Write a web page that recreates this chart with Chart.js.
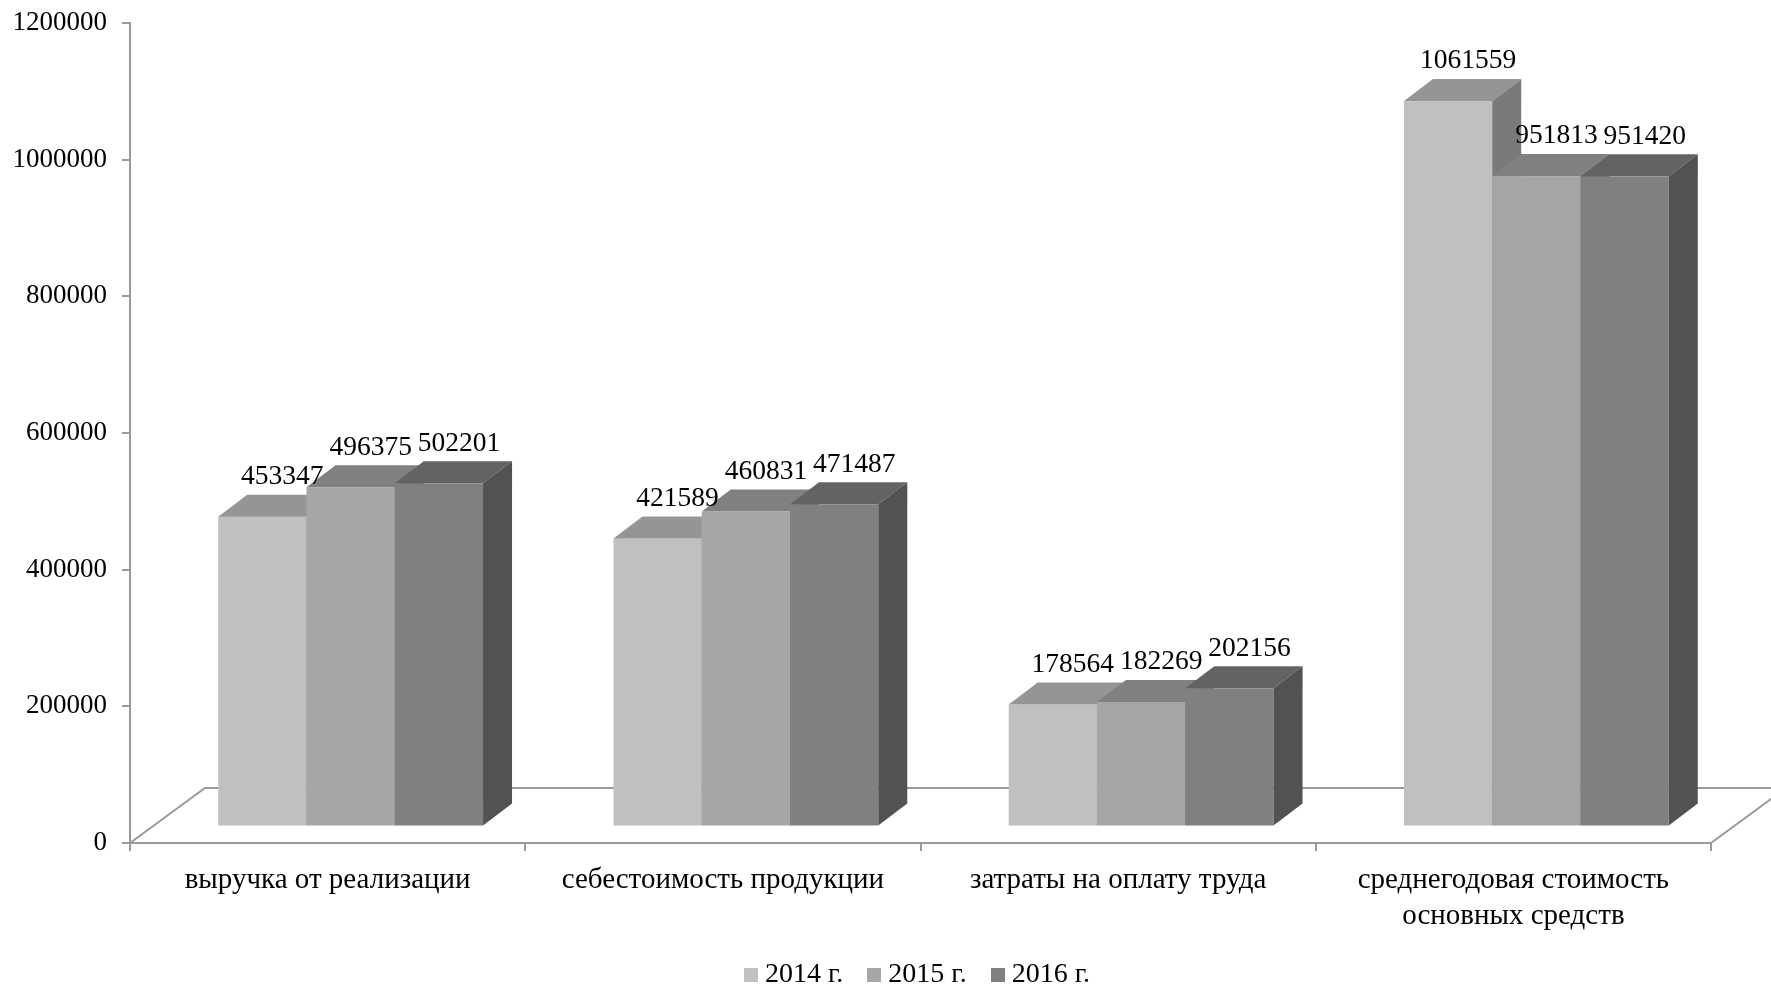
<!DOCTYPE html>
<html>
<head>
<meta charset="utf-8">
<script src="https://cdn.jsdelivr.net/npm/chart.js@4.4.0/dist/chart.umd.min.js"></script>
<style>
  html, body { margin: 0; padding: 0; background: #fff; }
  #wrap { width: 1771px; height: 988px; }
</style>
</head>
<body>
<div id="wrap"><canvas id="myChart" width="1771" height="988"></canvas></div>
<script>
// data
const categories = [
  'выручка от реализации',
  'себестоимость продукции',
  'затраты на оплату труда',
  ['среднегодовая стоимость', 'основных средств']
];
const years = ['2014 г.', '2015 г.', '2016 г.'];
const values2014 = [453347, 421589, 178564, 1061559];
const values2015 = [496375, 460831, 182269, 951813];
const values2016 = [502201, 471487, 202156, 951420];
const yTicks = [0, 200000, 400000, 600000, 800000, 1000000, 1200000];

// face colours per year: front, top, side
const frontColors = ['#c0c0c0', '#a6a6a6', '#808080'];
const topColors = ['#959595', '#808080', '#636363'];
const sideColors = ['#7a7a7a', '#6a6a6a', '#525252'];

// 3d projection offsets (px)
const DX = 29, DY = 22;          // depth of one bar
const SHIFT_X = 23, SHIFT_Y = 16.5; // bar front plane behind axis plane
const FLOOR_X = 75, FLOOR_Y = 55;
const LABEL_DX = 20, LABEL_DY = 18;
const lineColor = '#9a9a9a';

// small square swatches for the legend
function swatch(color) {
  const c = document.createElement('canvas');
  c.width = 14; c.height = 14;
  const g = c.getContext('2d');
  g.fillStyle = color;
  g.fillRect(0, 0, 14, 14);
  return c;
}
const swatches = frontColors.map(swatch);

const box3d = {
  id: 'box3d',
  beforeDatasetsDraw(chart) {
    const ctx = chart.ctx;
    const area = chart.chartArea;
    ctx.save();
    // floor outline
    ctx.strokeStyle = lineColor;
    ctx.lineWidth = 2;
    ctx.beginPath();
    ctx.moveTo(area.left, area.bottom);
    ctx.lineTo(area.left + FLOOR_X, area.bottom - FLOOR_Y);
    ctx.lineTo(chart.width + 20, area.bottom - FLOOR_Y);
    ctx.moveTo(area.right, area.bottom);
    ctx.lineTo(area.right + FLOOR_X, area.bottom - FLOOR_Y);
    ctx.stroke();

    const metas = chart.data.datasets.map((d, i) => chart.getDatasetMeta(i));
    const labels = [];
    for (let c = 0; c < categories.length; c++) {
      metas.forEach((meta, di) => {
        const bar = meta.data[c];
        const p = bar.getProps(['x', 'y', 'base', 'width'], true);
        const l = p.x - p.width / 2 + SHIFT_X;
        const r = l + p.width;
        const t = p.y - SHIFT_Y;
        const b = p.base - SHIFT_Y;
        ctx.fillStyle = frontColors[di];
        ctx.fillRect(l, t, p.width, b - t);
        ctx.fillStyle = topColors[di];
        ctx.beginPath();
        ctx.moveTo(l, t);
        ctx.lineTo(l + DX, t - DY);
        ctx.lineTo(r + DX, t - DY);
        ctx.lineTo(r, t);
        ctx.closePath();
        ctx.fill();
        ctx.fillStyle = sideColors[di];
        ctx.beginPath();
        ctx.moveTo(r, t);
        ctx.lineTo(r + DX, t - DY);
        ctx.lineTo(r + DX, b - DY);
        ctx.lineTo(r, b);
        ctx.closePath();
        ctx.fill();
        labels.push({ x: p.x + SHIFT_X + LABEL_DX, y: t - DY - LABEL_DY,
          text: String(chart.data.datasets[di].data[c]) });
      });
    }
    ctx.fillStyle = '#000';
    ctx.font = '27.5px "Liberation Serif"';
    ctx.textAlign = 'center';
    ctx.textBaseline = 'middle';
    labels.forEach(lb => ctx.fillText(lb.text, lb.x, lb.y));
    ctx.restore();
    return false;
  },
  afterLayout(chart) {
    // nudge legend to sit like the original
    chart.legend.top -= 3;
    chart.legend.bottom -= 3;
    chart.legend.left += 65;
    chart.legend.right += 65;
  }
};

Chart.defaults.font.family = '"Liberation Serif", "Times New Roman", serif';
Chart.defaults.font.size = 27;
Chart.defaults.color = '#000';

const myChart = new Chart(document.getElementById('myChart'), {
  type: 'bar',
  data: {
    labels: categories,
    datasets: [
      { label: years[0], data: values2014, backgroundColor: frontColors[0], borderWidth: 0 },
      { label: years[1], data: values2015, backgroundColor: frontColors[1], borderWidth: 0 },
      { label: years[2], data: values2016, backgroundColor: frontColors[2], borderWidth: 0 }
    ]
  },
  options: {
    responsive: false,
    animation: false,
    devicePixelRatio: 1,
    layout: { padding: { top: 23, right: 60, left: 0, bottom: -14 } },
    datasets: { bar: { categoryPercentage: 0.67, barPercentage: 1 } },
    plugins: {
      legend: {
        position: 'bottom',
        labels: {
          usePointStyle: true,
          pointStyleWidth: 0.01,
          boxHeight: 14,
          padding: 31,
          font: { size: 28 },
          generateLabels: (chart) => {
            const items = Chart.defaults.plugins.legend.labels.generateLabels(chart);
            items.forEach((it, i) => { it.pointStyle = swatches[i]; });
            return items;
          }
        }
      },
      tooltip: { enabled: false }
    },
    scales: {
      x: {
        offset: true,
        grid: { display: true, drawOnChartArea: false, offset: true, tickLength: 8, color: lineColor, lineWidth: 2 },
        border: { display: true, color: lineColor, width: 2 },
        ticks: { autoSkip: false, maxRotation: 0, padding: 11, font: { size: 29, lineHeight: 36 / 29 } },
        afterFit: (scale) => { scale.height = 90; }
      },
      y: {
        min: yTicks[0],
        max: yTicks[yTicks.length - 1],
        afterBuildTicks: (scale) => { scale.ticks = yTicks.map(v => ({ value: v })); },
        grid: { display: true, drawOnChartArea: false, tickLength: 8, color: lineColor, lineWidth: 2 },
        border: { display: true, color: lineColor, width: 2 },
        // small lineHeight keeps the top label from pushing the plot area down
        ticks: { padding: 15, callback: (v) => String(v), font: { size: 27, lineHeight: 0.5 } },
        afterFit: (scale) => { scale.width = 130; }
      }
    }
  },
  plugins: [box3d]
});
</script>
</body>
</html>
